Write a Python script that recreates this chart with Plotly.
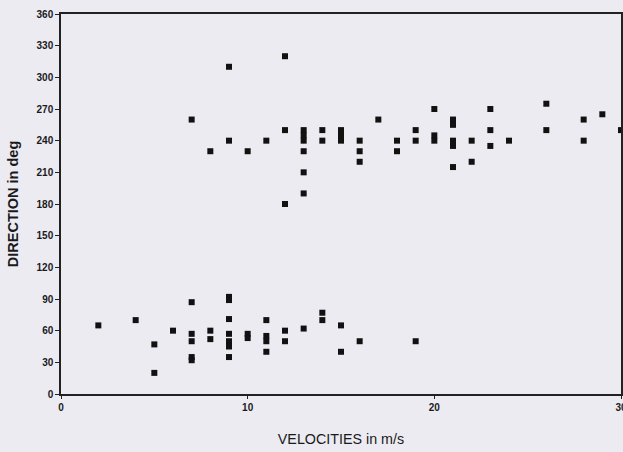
import plotly.graph_objects as go

# Velocity (m/s) and direction (deg) pairs
velocity = [
    7, 8, 9, 9, 10, 11, 12, 12, 12,
    13, 13, 13, 13, 13, 13,
    14, 14, 15, 15, 15, 16, 16, 16, 17, 18, 18, 19, 19,
    20, 20, 20, 21, 21, 21, 21, 21, 22, 22, 23, 23, 23, 24,
    26, 26, 28, 28, 29, 30,
    2, 4, 5, 5, 6, 7, 7, 7, 7, 7, 8, 8,
    9, 9, 9, 9, 9, 9, 9, 10, 10, 11, 11, 11, 11, 12, 12,
    13, 14, 14, 15, 15, 16, 19,
]
direction = [
    260, 230, 310, 240, 230, 240, 320, 250, 180,
    250, 245, 240, 230, 210, 190,
    250, 240, 250, 245, 240, 240, 230, 220, 260, 240, 230, 250, 240,
    270, 245, 240, 260, 255, 240, 235, 215, 240, 220, 270, 250, 235, 240,
    275, 250, 260, 240, 265, 250,
    65, 70, 47, 20, 60, 87, 57, 50, 35, 32, 60, 52,
    92, 89, 71, 57, 50, 45, 35, 57, 53, 70, 55, 50, 40, 60, 50,
    62, 77, 70, 65, 40, 50, 50,
]

x_ticks = [0, 10, 20, 30]
y_ticks = list(range(0, 361, 30))

fig = go.Figure(
    go.Scatter(
        x=velocity,
        y=direction,
        mode="markers",
        marker=dict(symbol="square", size=6, color="#111111"),
        hoverinfo="skip",
    )
)

bg = "#ecebf2"
fig.update_layout(
    width=623,
    height=452,
    margin=dict(l=61, r=2, t=14, b=58),
    paper_bgcolor=bg,
    plot_bgcolor=bg,
    showlegend=False,
    font=dict(family="Liberation Sans, Arial, sans-serif", color="#1a1a1a"),
)
fig.update_xaxes(
    range=[0, 30],
    automargin=False,
    tickvals=x_ticks,
    ticktext=[f"<b>{v}</b>" for v in x_ticks],
    tickfont=dict(size=10),
    ticklabeloverflow="allow",
    ticks="outside",
    ticklen=3,
    tickcolor="#222",
    showgrid=False,
    zeroline=False,
    showline=True,
    linecolor="#222",
    linewidth=1.5,
    mirror=True,
    title=dict(text="VELOCITIES in m/s", font=dict(size=14.3), standoff=22),
)
fig.update_yaxes(
    range=[0, 360],
    automargin=False,
    tickvals=y_ticks,
    ticktext=[f"<b>{v}</b>" for v in y_ticks],
    tickfont=dict(size=10),
    ticks="outside",
    ticklen=4,
    tickcolor="#222",
    showgrid=False,
    zeroline=False,
    showline=True,
    linecolor="#222",
    linewidth=1.5,
    mirror=True,
    title=dict(text="<b>DIRECTION in deg</b>", font=dict(size=14.5), standoff=14),
)

fig.write_html(
    "out.html",
    config={"displayModeBar": False},
    post_script="document.body.style.margin='0';document.body.style.background='%s';" % bg,
)
